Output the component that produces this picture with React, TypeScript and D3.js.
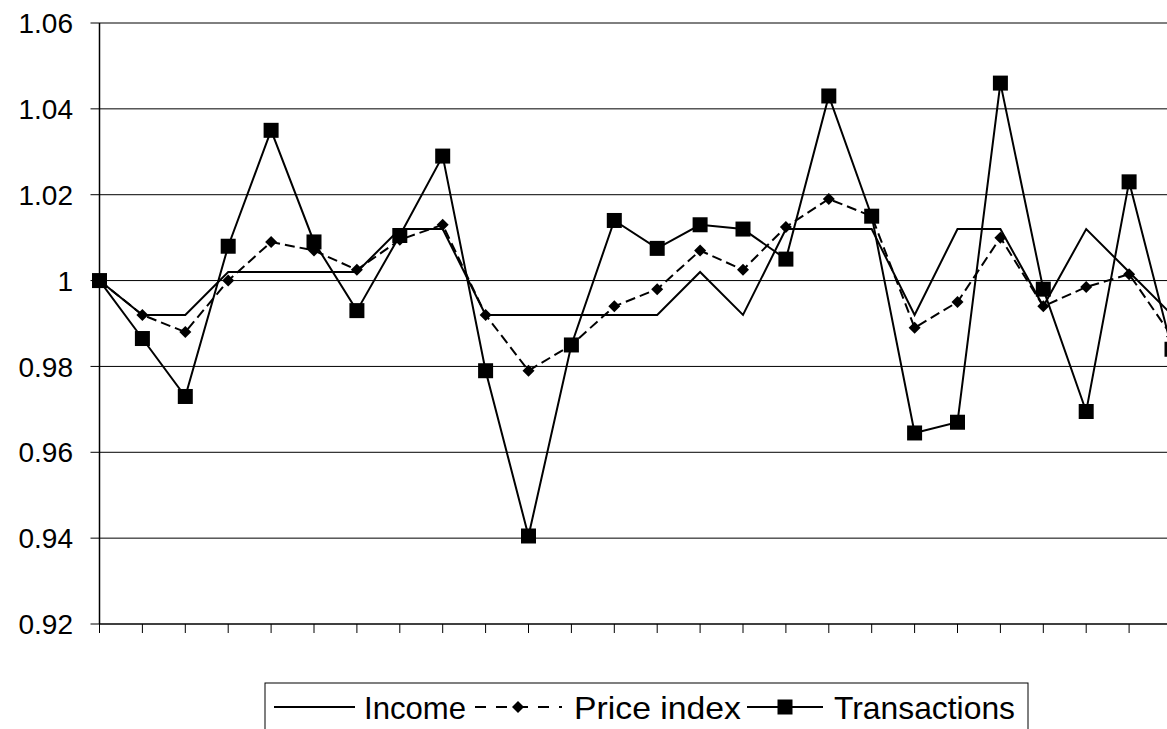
import React from "react";
import * as d3 from "d3";

const income = [1.0, 0.992, 0.992, 1.002, 1.002, 1.002, 1.002, 1.012, 1.012, 0.992, 0.992, 0.992, 0.992, 0.992, 1.002, 0.992, 1.012, 1.012, 1.012, 0.992, 1.012, 1.012, 0.994, 1.012, 1.002, 0.992];
const priceIndex = [1.0, 0.992, 0.988, 1.0, 1.009, 1.007, 1.0025, 1.0095, 1.013, 0.992, 0.979, 0.985, 0.994, 0.998, 1.007, 1.0025, 1.0125, 1.019, 1.015, 0.989, 0.995, 1.01, 0.994, 0.9985, 1.0015, 0.987];
const transactions = [1.0, 0.9865, 0.973, 1.008, 1.035, 1.009, 0.993, 1.0105, 1.029, 0.979, 0.9405, 0.985, 1.014, 1.0075, 1.013, 1.012, 1.005, 1.043, 1.015, 0.9645, 0.967, 1.046, 0.998, 0.9695, 1.023, 0.984];
const yTicks = [0.92, 0.94, 0.96, 0.98, 1.0, 1.02, 1.04, 1.06];

const W = 1167, H = 729;
const left = 99.5, top = 23, bottom = 624;
const font = "Arial, 'Liberation Sans', sans-serif";

export default function App() {
  const idx = d3.range(income.length);
  const x = d3.scaleLinear().domain([0, 25]).range([left, left + 25 * 42.9]);
  const y = d3.scaleLinear().domain([0.92, 1.06]).range([bottom, top]);
  const line = d3.line<number>().x((_, i) => x(i)).y((d) => y(d));
  const sq = 7.5, dm = 6;
  const diamond = (cx: number, cy: number) => `M${cx},${cy - dm}L${cx + dm},${cy}L${cx},${cy + dm}L${cx - dm},${cy}Z`;
  const ly = 707;
  return (
    <svg width={W} height={H} style={{ position: "absolute", left: 0, top: 0, background: "#fff" }}>
      {yTicks.map((t) => (
        <g key={t}>
          <line x1={left - 9} x2={t > 0.92 ? W : left} y1={y(t)} y2={y(t)} stroke="#000" strokeWidth={1} />
          <text x={73} y={y(t)} dy="0.36em" textAnchor="end" fontFamily={font} fontSize={28}>{t === 1 ? "1" : t.toFixed(2)}</text>
        </g>
      ))}
      <line x1={left} x2={left} y1={top} y2={bottom} stroke="#000" strokeWidth={1.5} />
      <line x1={left} x2={W} y1={bottom} y2={bottom} stroke="#000" strokeWidth={1.5} />
      {d3.range(26).map((i) => (
        <line key={i} x1={x(i)} x2={x(i)} y1={bottom} y2={bottom + 9} stroke="#000" />
      ))}
      <path d={line(income) ?? ""} fill="none" stroke="#000" strokeWidth={2} />
      <path d={line(priceIndex) ?? ""} fill="none" stroke="#000" strokeWidth={2} strokeDasharray="10,5" />
      <path d={line(transactions) ?? ""} fill="none" stroke="#000" strokeWidth={2} />
      {idx.map((i) => <path key={"p" + i} d={diamond(x(i), y(priceIndex[i]))} fill="#000" />)}
      {idx.map((i) => <rect key={"t" + i} x={x(i) - sq} y={y(transactions[i]) - sq} width={sq * 2} height={sq * 2} fill="#000" />)}
      <g>
        <rect x={265} y={683} width={763} height={70} fill="#fff" stroke="#000" />
        <line x1={274} x2={355} y1={ly} y2={ly} stroke="#000" strokeWidth={2} />
        <text x={364} y={ly} dy="0.36em" fontFamily={font} fontSize={32} textLength={102} lengthAdjust="spacingAndGlyphs">Income</text>
        <line x1={475} x2={562} y1={ly} y2={ly} stroke="#000" strokeWidth={2} strokeDasharray="11,10" />
        <path d={diamond(518, ly)} fill="#000" />
        <text x={574} y={ly} dy="0.36em" fontFamily={font} fontSize={32} textLength={167} lengthAdjust="spacingAndGlyphs">Price index</text>
        <line x1={747} x2={823} y1={ly} y2={ly} stroke="#000" strokeWidth={2} />
        <rect x={785 - sq} y={ly - sq} width={sq * 2} height={sq * 2} fill="#000" />
        <text x={834} y={ly} dy="0.36em" fontFamily={font} fontSize={32} textLength={181} lengthAdjust="spacingAndGlyphs">Transactions</text>
      </g>
    </svg>
  );
}
